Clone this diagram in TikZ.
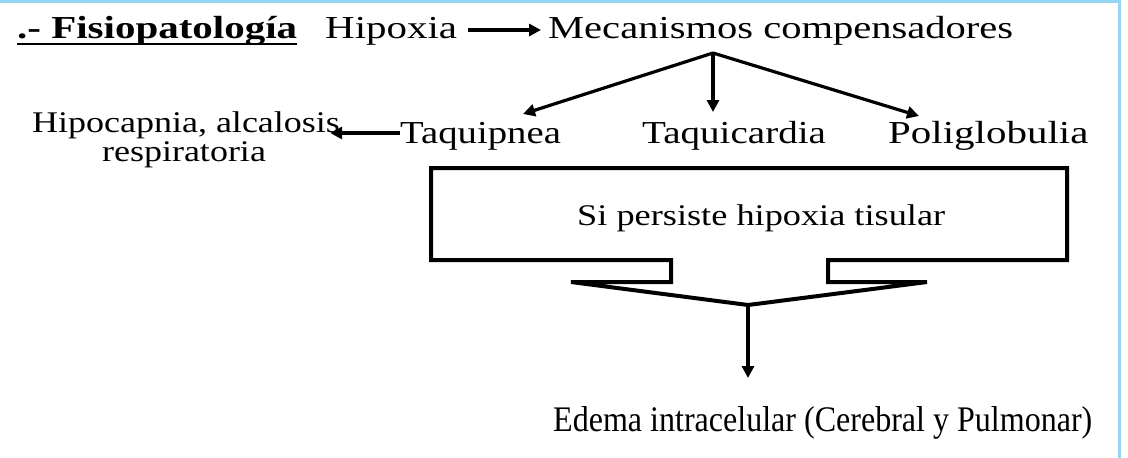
\documentclass[tikz,border=0pt]{standalone}
\usepackage{fontspec}
\setmainfont{Liberation Serif}
\usetikzlibrary{arrows.meta,calc}
\definecolor{frameblue}{RGB}{150,214,245}
\begin{document}
\begin{tikzpicture}[x=1pt,y=-1pt,
  txt/.style={inner sep=0pt,anchor=base west,font=\fontsize{32}{38}\selectfont},
  arr/.style={line width=3.2pt,-{Triangle[length=12pt,width=12pt]}},
  outline/.style={line width=4pt,line join=miter},
  frame/.style={frameblue,line width=3.5pt}]
\useasboundingbox (0,0) rectangle (1128,458);
\draw[frame] (0,1.5) -- (1119.5,1.5) -- (1119.5,458);

% top row
\node[txt] (title) at (17,38) {\scalebox{1.28}[1]{\bfseries .- Fisiopatología}};
\draw[line width=2.2pt] ($(title.base west)+(0,6)$) -- ($(title.base east)+(0,6)$);
\node[txt] (hip) at (325,38) {\scalebox{1.28}[1]{Hipoxia}};
\node[txt] (mec) at (548,38) {\scalebox{1.267}[1]{Mecanismos compensadores}};
\draw[arr] ($(hip.base east)+(11,-8)$) -- ($(mec.base west)+(-7,-8)$);

% second row
\coordinate (br) at (713,53);
\node[txt] (tqp) at (400,143) {\scalebox{1.21}[1]{Taquipnea}};
\node[txt] (tqd) at (642,143) {\scalebox{1.22}[1]{Taquicardia}};
\node[txt] (pol) at (888,143) {\scalebox{1.28}[1]{Poliglobulia}};
\draw[arr] (br) -- ($(tqp.base west)+(123,-29)$);
\draw[arr] (br) -- ($(tqd.base west)+(71,-31)$);
\draw[arr] (br) -- ($(pol.base west)+(31,-27)$);

\node[txt,anchor=base,font=\fontsize{30}{36}\selectfont] (hc1) at (186,132) {\scalebox{1.2}[1]{Hipocapnia, alcalosis}};
\node[txt,anchor=base,font=\fontsize{30}{36}\selectfont] (hc2) at (184,161) {\scalebox{1.2}[1]{respiratoria}};
\draw[arr] ($(tqp.base west)+(0,-10)$) -- ($(hc1.base east)+(-10,1)$);

% callout box
\draw[outline] (431,168) -- (1067,168) -- (1067,260) -- (828,260) -- (828,282)
  -- (927,282) -- (748,305) -- (571,282) -- (671,282) -- (671,260) -- (431,260) -- cycle;
\coordinate (apex) at (748,305);
\node[txt,font=\fontsize{30}{36}\selectfont] (sip) at (577,225) {\scalebox{1.21}[1]{Si persiste hipoxia tisular}};

% result
\node[txt,font=\fontsize{36}{42}\selectfont] (edema) at (553,431) {\scalebox{0.89}[1]{Edema intracelular (Cerebral y Pulmonar)}};
\draw[arr] (apex) -- ($(apex |- edema.base)+(0,-53)$);
\end{tikzpicture}
\end{document}
